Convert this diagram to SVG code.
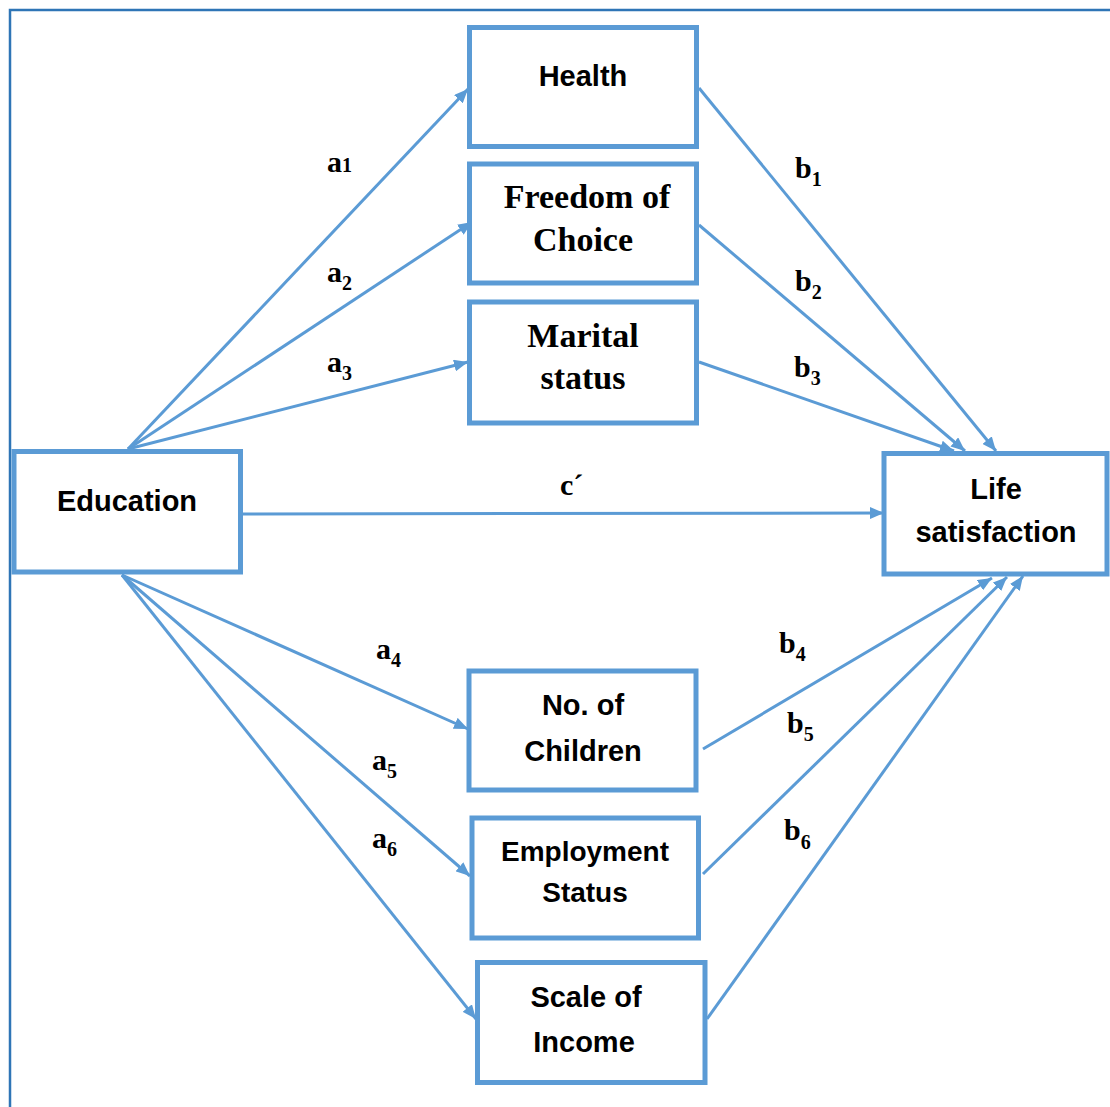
<svg xmlns="http://www.w3.org/2000/svg" width="1110" height="1107" viewBox="0 0 1110 1107">
  <style>
    .box { fill: #FFFFFF; stroke: #5B9BD5; stroke-width: 5; }
    .edge { fill: none; stroke: #5B9BD5; stroke-width: 3; }
    .sans { font-family: "Liberation Sans", Arial, sans-serif; font-weight: bold; font-size: 29px; fill: #000000; text-anchor: middle; }
    .serif { font-family: "Liberation Serif", "Times New Roman", serif; font-weight: bold; font-size: 34px; fill: #000000; text-anchor: middle; }
    .lbl { font-family: "Liberation Serif", "Times New Roman", serif; font-weight: bold; font-size: 30px; fill: #000000; }
    .sub { font-size: 20px; }
  </style>
  <defs>
    <marker id="arrow" viewBox="0 0 14 12" refX="14" refY="6" markerWidth="14" markerHeight="12" markerUnits="userSpaceOnUse" orient="auto">
      <path d="M0,0 L14,6 L0,12 Z" fill="#5B9BD5"/>
    </marker>
  </defs>

  <rect x="0" y="0" width="1110" height="1107" fill="#FFFFFF"/>
  <!-- outer frame (top and left edges) -->
  <path d="M10,1107 V10 H1110" fill="none" stroke="#2E75B6" stroke-width="2.5"/>

  <!-- connectors -->
  <g id="connectors">
    <line class="edge" x1="128" y1="449" x2="468" y2="89" marker-end="url(#arrow)"/>
    <line class="edge" x1="128" y1="449" x2="472" y2="222" marker-end="url(#arrow)"/>
    <line class="edge" x1="128" y1="449" x2="468" y2="362" marker-end="url(#arrow)"/>
    <line class="edge" x1="242" y1="514" x2="884" y2="513" marker-end="url(#arrow)"/>
    <line class="edge" x1="122" y1="575" x2="468" y2="729" marker-end="url(#arrow)"/>
    <line class="edge" x1="122" y1="575" x2="470" y2="876" marker-end="url(#arrow)"/>
    <line class="edge" x1="122" y1="575" x2="476" y2="1019" marker-end="url(#arrow)"/>
    <line class="edge" x1="699" y1="88" x2="996" y2="451" marker-end="url(#arrow)"/>
    <line class="edge" x1="699" y1="225" x2="965" y2="451" marker-end="url(#arrow)"/>
    <line class="edge" x1="699" y1="362" x2="954" y2="451" marker-end="url(#arrow)"/>
    <line class="edge" x1="703" y1="749" x2="992" y2="578" marker-end="url(#arrow)"/>
    <line class="edge" x1="703" y1="874" x2="1007" y2="577" marker-end="url(#arrow)"/>
    <line class="edge" x1="707" y1="1019" x2="1023" y2="576" marker-end="url(#arrow)"/>
  </g>

  <!-- path labels -->
  <g id="labels">
    <text class="lbl" x="327" y="172">a<tspan class="sub">1</tspan></text>
    <text class="lbl" x="327" y="282">a<tspan class="sub" dy="8">2</tspan></text>
    <text class="lbl" x="327" y="372">a<tspan class="sub" dy="8">3</tspan></text>
    <text class="lbl" x="795" y="178">b<tspan class="sub" dy="8">1</tspan></text>
    <text class="lbl" x="795" y="291">b<tspan class="sub" dy="8">2</tspan></text>
    <text class="lbl" x="794" y="377">b<tspan class="sub" dy="8">3</tspan></text>
    <text class="lbl" x="560" y="495">c´</text>
    <text class="lbl" x="376" y="659">a<tspan class="sub" dy="8">4</tspan></text>
    <text class="lbl" x="372" y="770">a<tspan class="sub" dy="8">5</tspan></text>
    <text class="lbl" x="372" y="848">a<tspan class="sub" dy="8">6</tspan></text>
    <text class="lbl" x="779" y="653">b<tspan class="sub" dy="8">4</tspan></text>
    <text class="lbl" x="787" y="733">b<tspan class="sub" dy="8">5</tspan></text>
    <text class="lbl" x="784" y="840">b<tspan class="sub" dy="9">6</tspan></text>
  </g>

  <g id="education">
    <rect class="box" x="14" y="451.5" width="226.5" height="120.5"/>
    <text class="sans" x="127" y="511">Education</text>
  </g>
  <g id="health">
    <rect class="box" x="469.5" y="27.5" width="227" height="119"/>
    <text class="sans" x="583" y="86">Health</text>
  </g>
  <g id="freedom">
    <rect class="box" x="469.5" y="164" width="227" height="119"/>
    <text class="serif" x="587" y="208">Freedom of</text>
    <text class="serif" x="583" y="251">Choice</text>
  </g>
  <g id="marital">
    <rect class="box" x="469.5" y="302" width="227" height="121"/>
    <text class="serif" x="583" y="347">Marital</text>
    <text class="serif" x="583" y="389">status</text>
  </g>
  <g id="life">
    <rect class="box" x="884" y="453.5" width="223" height="120.5"/>
    <text class="sans" x="996" y="499">Life</text>
    <text class="sans" x="996" y="542">satisfaction</text>
  </g>
  <g id="children">
    <rect class="box" x="469" y="671" width="227" height="119"/>
    <text class="sans" x="583" y="715">No. of</text>
    <text class="sans" x="583" y="761">Children</text>
  </g>
  <g id="employment">
    <rect class="box" x="472" y="818" width="226.5" height="120"/>
    <text class="sans" x="585" y="861" style="font-size:28px">Employment</text>
    <text class="sans" x="585" y="902" style="font-size:28px">Status</text>
  </g>
  <g id="income">
    <rect class="box" x="477.5" y="962.5" width="227.5" height="120"/>
    <text class="sans" x="586" y="1007">Scale of</text>
    <text class="sans" x="584" y="1052">Income</text>
  </g>
</svg>
